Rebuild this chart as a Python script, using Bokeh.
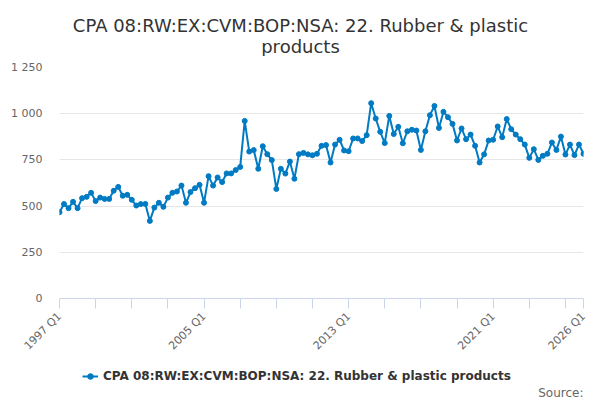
from bokeh.plotting import figure
from bokeh.layouts import column
from bokeh.models import (FixedTicker, Range1d, Legend, LegendItem, Label)
from bokeh.embed import file_html
from bokeh.resources import INLINE

title_line1 = "CPA 08:RW:EX:CVM:BOP:NSA: 22. Rubber & plastic"
title_line2 = "products"
series_name = "CPA 08:RW:EX:CVM:BOP:NSA: 22. Rubber & plastic products"
source_text = "Source:"

start_year = 1997
values = [
    467, 511, 489, 523, 489, 543, 550, 572, 527, 546, 539, 539, 583, 604, 556, 561,
    534, 503, 511, 512, 420, 492, 518, 496, 546, 572, 579, 611, 518, 576, 597, 615,
    518, 662, 611, 655, 630, 677, 677, 695, 712, 961, 795, 803, 702, 824, 781, 749,
    593, 702, 676, 741, 648, 781, 788, 780, 775, 783, 826, 830, 736, 833, 859, 801,
    797, 866, 866, 852, 884, 1057, 974, 902, 841, 988, 890, 929, 840, 905, 913, 909,
    804, 905, 992, 1042, 923, 1010, 981, 945, 855, 920, 862, 887, 826, 736, 780, 855,
    859, 931, 873, 971, 916, 887, 862, 833, 761, 808, 750, 772, 783, 844, 804, 876,
    779, 833, 776, 833, 783,
]
quarters = [f"{start_year + i // 4} Q{i % 4 + 1}" for i in range(len(values))]
x_idx = list(range(len(values)))

labelled_quarters = ["1997 Q1", "2005 Q1", "2013 Q1", "2021 Q1", "2026 Q1"]
y_ticks = [0, 250, 500, 750, 1000, 1250]
y_tick_labels = ["0", "250", "500", "750", "1 000", "1 250"]

line_color = "#007bc3"
font = "DejaVu Sans"
W = 600
LEFT, RIGHT, FW = 59, 17, 524   # frame placement shared by all stacked figures


def blank_fig(h):
    f = figure(frame_width=FW, frame_height=h, output_backend="svg",
               toolbar_location=None, x_axis_type=None, y_axis_type=None, title=None,
               x_range=Range1d(0, 1), y_range=Range1d(0, 1),
               min_border_left=LEFT, min_border_right=RIGHT, min_border_top=0,
               min_border_bottom=0)
    f.outline_line_color = None
    f.xgrid.visible = False
    f.ygrid.visible = False
    return f


# ---- title block (label x is relative to frame left)
ft = blank_fig(56)
ft.add_layout(Label(x=W / 2 - LEFT, y=31, x_units="screen", y_units="screen",
                    text=title_line1, text_align="center", text_baseline="alphabetic",
                    text_font=font, text_font_size="18px", text_color="#333333"))
ft.add_layout(Label(x=W / 2 - LEFT, y=10, x_units="screen", y_units="screen",
                    text=title_line2, text_align="center", text_baseline="alphabetic",
                    text_font=font, text_font_size="18px", text_color="#333333"))

# ---- main chart
p = figure(frame_width=FW, frame_height=231, output_backend="svg",
           toolbar_location=None, title=None,
           x_range=Range1d(0, len(values) - 1), y_range=Range1d(0, 1250),
           min_border_left=LEFT, min_border_right=RIGHT, min_border_top=11,
           min_border_bottom=60)
p.outline_line_color = None
p.background_fill_color = "white"

lr = p.line(x_idx, values, line_color=line_color, line_width=2)
sr = p.scatter(x_idx, values, size=5, fill_color=line_color, line_color=line_color)

x_ticks = list(range(0, len(values), 8)) + [len(values) - 1]
p.xaxis.ticker = FixedTicker(ticks=x_ticks)
overrides = {}
for t in x_ticks:
    overrides[t] = quarters[t] if quarters[t] in labelled_quarters else ""
p.xaxis.major_label_overrides = overrides
p.xaxis.major_label_orientation = 0.785398
p.xaxis.axis_line_color = "#ccd6eb"
p.xaxis.major_tick_line_color = "#ccd6eb"
p.xaxis.major_tick_out = 10
p.xaxis.major_tick_in = 0
p.xaxis.minor_tick_line_color = None
p.xaxis.major_label_text_font = font
p.xaxis.major_label_text_font_size = "11px"
p.xaxis.major_label_text_color = "#666666"
p.xaxis.major_label_standoff = 6
p.xgrid.grid_line_color = None

p.yaxis.ticker = FixedTicker(ticks=y_ticks)
p.yaxis.major_label_overrides = dict(zip(y_ticks, y_tick_labels))
p.yaxis.axis_line_color = None
p.yaxis.major_tick_line_color = None
p.yaxis.major_tick_out = 0
p.yaxis.major_tick_in = 0
p.yaxis.minor_tick_line_color = None
p.yaxis.major_label_text_font = font
p.yaxis.major_label_text_font_size = "11px"
p.yaxis.major_label_text_color = "#666666"
p.yaxis.major_label_standoff = 17
p.ygrid.grid_line_color = "#e6e6e6"

# ---- legend + source block
fl = blank_fig(42)
gl = fl.line([-10, -9], [-10, -9], line_color=line_color, line_width=2)
gs = fl.scatter([-10], [-10], size=5, fill_color=line_color, line_color=line_color)
legend = Legend(items=[LegendItem(label=series_name, renderers=[gl, gs])],
                orientation="horizontal", location=(82 - LEFT, 19),
                border_line_color=None, background_fill_alpha=0,
                label_text_font=font, label_text_font_size="12px",
                label_text_font_style="bold", label_text_color="#333333",
                label_height=14, glyph_width=16, glyph_height=14, padding=0,
                margin=0, spacing=0, label_standoff=5)
fl.add_layout(legend, "center")
fl.add_layout(Label(x=FW, y=10, x_units="screen", y_units="screen", text=source_text,
                    text_align="right", text_baseline="middle", text_font=font,
                    text_font_size="12px", text_color="#666666"))

page = column(ft, p, fl, spacing=0)
open("out.html", "w").write(file_html(page, INLINE))
